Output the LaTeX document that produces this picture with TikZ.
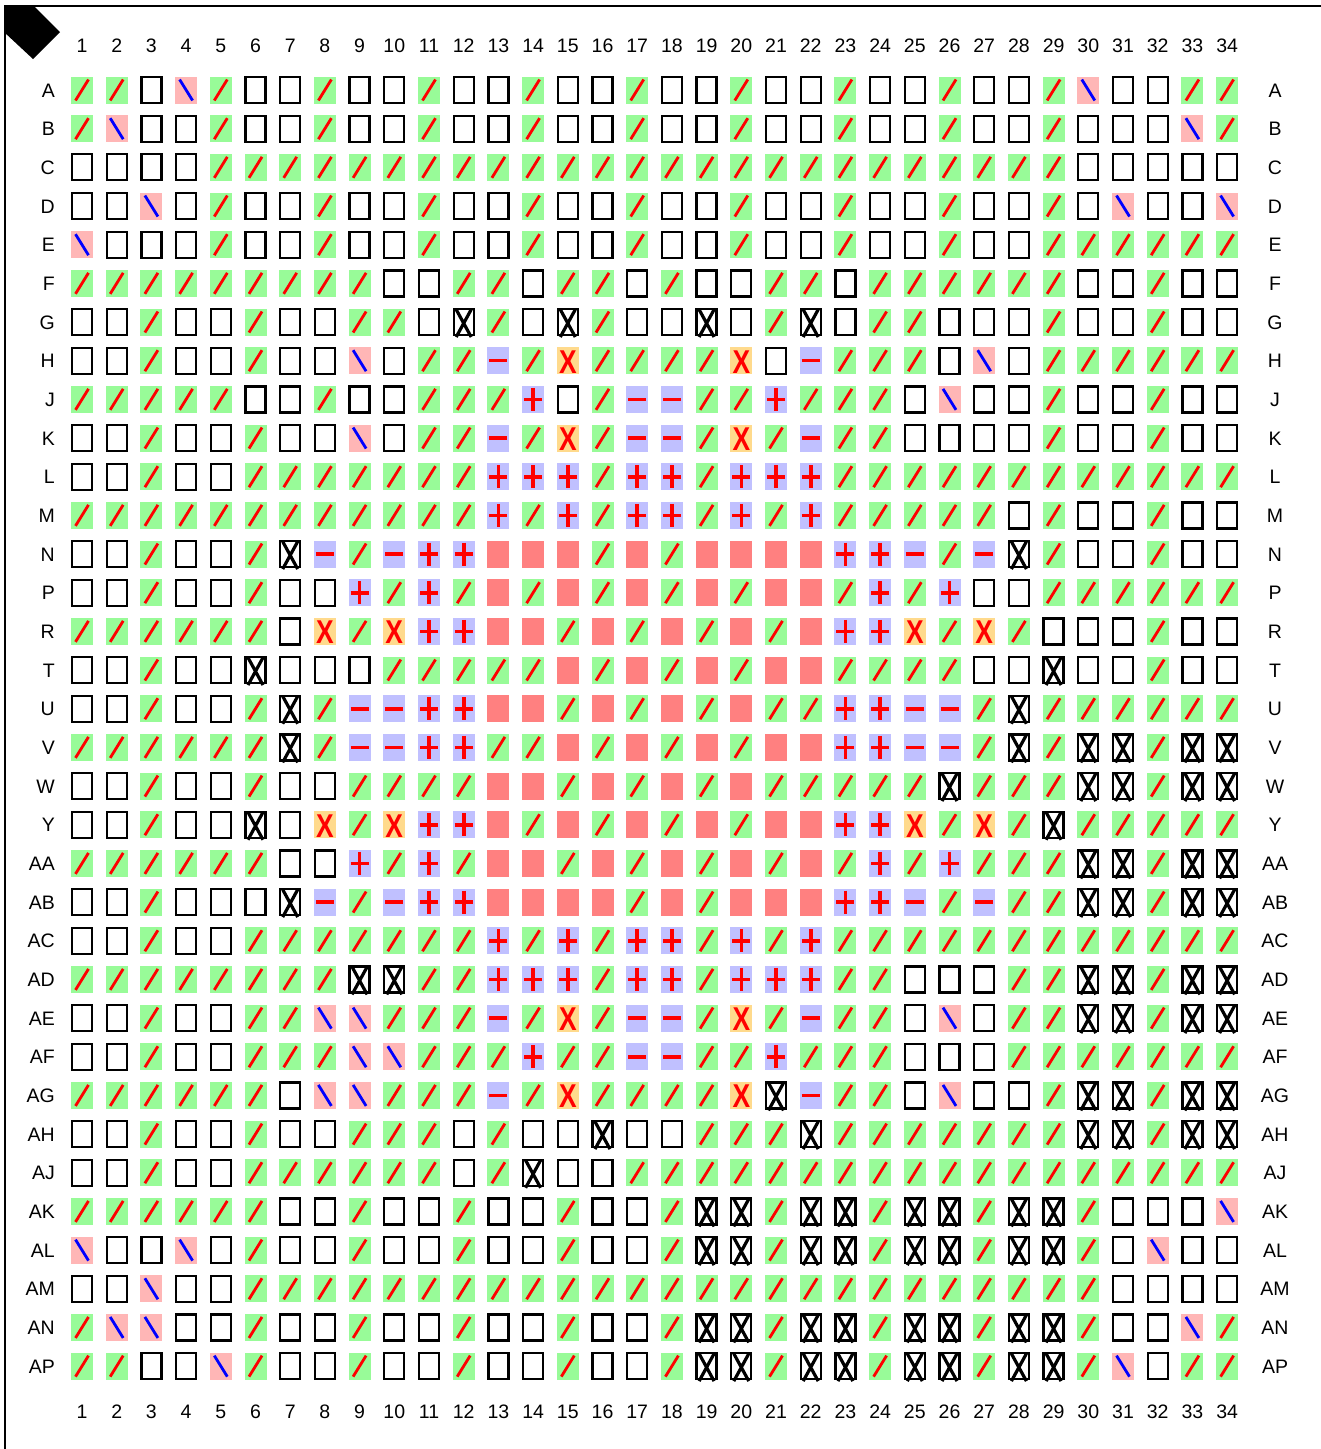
\documentclass[tikz,border=0pt]{standalone}
\usepackage{fontspec}
\setmainfont{Liberation Sans}
\usepackage{graphicx}
\definecolor{cgreen}{RGB}{152,251,152}
\definecolor{cpink}{RGB}{255,182,182}
\definecolor{clav}{RGB}{192,192,255}
\definecolor{csalmon}{RGB}{255,128,128}
\definecolor{corange}{RGB}{255,218,140}
\definecolor{cred}{RGB}{255,0,0}
\definecolor{cblue}{RGB}{0,0,255}
\newcommand\dcg{\fill[cgreen] (-11,-13.5) rectangle (11,13.5); \draw[cred,line width=2.8pt] (-6.5,10.5) -- (6.5,-10.5);}
\newcommand\dcp{\fill[cpink] (-11,-13.5) rectangle (11,13.5); \draw[cblue,line width=2.8pt] (-6.5,-10.5) -- (6.5,10.5);}
\newcommand\dce{\draw[line width=2.3pt] (-10,-13) rectangle (10,13);}
\newcommand\dcx{\draw[line width=2.3pt] (-10,-13) rectangle (10,13); \draw[line width=3.2pt] (-7.5,-12.5) -- (7.5,15) (7.5,-12.5) -- (-7.5,15);}
\newcommand\dcm{\fill[clav] (-11,-13.5) rectangle (11,13.5); \draw[cred,line width=3.6pt] (-9,0) -- (9,0);}
\newcommand\dca{\dcm \draw[cred,line width=3.6pt] (0,-11.5) -- (0,11.5);}
\newcommand\dco{\fill[corange] (-11,-13.5) rectangle (11,13.5); \node[inner sep=0pt,text=cred,font=\fontsize{33}{33}\selectfont\bfseries] (ox\currow-\j) at (0,1) {\scalebox{0.8}[1]{X}};}
\newcommand\dcr{\fill[csalmon] (-11,-13.5) rectangle (11,13.5);}
\newcommand\gridrow[3]{%
  \def\currow{#1}%
  \foreach \c [count=\j] in {#3} {%
    \begin{scope}[shift={({82+(\j-1)*34.7},{90+(#1-1)*38.67})}]
      \csname dc\c\endcsname
    \end{scope}
  }%
  \node[lab,anchor=base east] (L#2) at (55,{97+(#1-1)*38.67}) {#2};
  \node[lab,anchor=base] (R#2) at (1275,{97+(#1-1)*38.67}) {#2};
}
\tikzset{lab/.style={inner sep=0pt,font=\fontsize{19.5}{19.5}\selectfont}}
\begin{document}
\begin{tikzpicture}[x=1pt,y=-1pt]
\useasboundingbox (0,0) rectangle (1321,1449);
\fill[white] (0,0) rectangle (1321,1449);
\draw[line width=2pt] (5,1449) -- (5,6) -- (1321,6);
\fill[black] (4,5) -- (33,5) -- (60,32) -- (33,59) -- (4,32) -- cycle;
\foreach \j in {1,...,34} {
  \node[lab,anchor=base] (T\j) at ({82+(\j-1)*34.7},52) {\j};
  \node[lab,anchor=base] (B\j) at ({82+(\j-1)*34.7},1418) {\j};
}
\gridrow{1}{A}{g,g,e,p,g,e,e,g,e,e,g,e,e,g,e,e,g,e,e,g,e,e,g,e,e,g,e,e,g,p,e,e,g,g}
\gridrow{2}{B}{g,p,e,e,g,e,e,g,e,e,g,e,e,g,e,e,g,e,e,g,e,e,g,e,e,g,e,e,g,e,e,e,p,g}
\gridrow{3}{C}{e,e,e,e,g,g,g,g,g,g,g,g,g,g,g,g,g,g,g,g,g,g,g,g,g,g,g,g,g,e,e,e,e,e}
\gridrow{4}{D}{e,e,p,e,g,e,e,g,e,e,g,e,e,g,e,e,g,e,e,g,e,e,g,e,e,g,e,e,g,e,p,e,e,p}
\gridrow{5}{E}{p,e,e,e,g,e,e,g,e,e,g,e,e,g,e,e,g,e,e,g,e,e,g,e,e,g,e,e,g,g,g,g,g,g}
\gridrow{6}{F}{g,g,g,g,g,g,g,g,g,e,e,g,g,e,g,g,e,g,e,e,g,g,e,g,g,g,g,g,g,e,e,g,e,e}
\gridrow{7}{G}{e,e,g,e,e,g,e,e,g,g,e,x,g,e,x,g,e,e,x,e,g,x,e,g,g,e,e,e,g,e,e,g,e,e}
\gridrow{8}{H}{e,e,g,e,e,g,e,e,p,e,g,g,m,g,o,g,g,g,g,o,e,m,g,g,g,e,p,e,g,g,g,g,g,g}
\gridrow{9}{J}{g,g,g,g,g,e,e,g,e,e,g,g,g,a,e,g,m,m,g,g,a,g,g,g,e,p,e,e,g,e,e,g,e,e}
\gridrow{10}{K}{e,e,g,e,e,g,e,e,p,e,g,g,m,g,o,g,m,m,g,o,g,m,g,g,e,e,e,e,g,e,e,g,e,e}
\gridrow{11}{L}{e,e,g,e,e,g,g,g,g,g,g,g,a,a,a,g,a,a,g,a,a,a,g,g,g,g,g,g,g,g,g,g,g,g}
\gridrow{12}{M}{g,g,g,g,g,g,g,g,g,g,g,g,a,g,a,g,a,a,g,a,g,a,g,g,g,g,g,e,g,e,e,g,e,e}
\gridrow{13}{N}{e,e,g,e,e,g,x,m,g,m,a,a,r,r,r,g,r,g,r,r,r,r,a,a,m,g,m,x,g,e,e,g,e,e}
\gridrow{14}{P}{e,e,g,e,e,g,e,e,a,g,a,g,r,g,r,g,r,g,r,g,r,r,g,a,g,a,e,e,g,g,g,g,g,g}
\gridrow{15}{R}{g,g,g,g,g,g,e,o,g,o,a,a,r,r,g,r,g,r,g,r,g,r,a,a,o,g,o,g,e,e,e,g,e,e}
\gridrow{16}{T}{e,e,g,e,e,x,e,e,e,g,g,g,g,g,r,g,r,g,r,g,r,r,g,g,g,g,e,e,x,e,e,g,e,e}
\gridrow{17}{U}{e,e,g,e,e,g,x,g,m,m,a,a,r,r,g,r,g,r,g,r,g,g,a,a,m,m,g,x,g,g,g,g,g,g}
\gridrow{18}{V}{g,g,g,g,g,g,x,g,m,m,a,a,g,g,r,g,r,g,r,g,r,r,a,a,m,m,g,x,g,x,x,g,x,x}
\gridrow{19}{W}{e,e,g,e,e,g,e,e,g,g,g,g,r,r,g,r,g,r,g,r,g,g,g,g,g,x,g,g,g,x,x,g,x,x}
\gridrow{20}{Y}{e,e,g,e,e,x,e,o,g,o,a,a,r,g,r,g,r,g,r,g,r,r,a,a,o,g,o,g,x,g,g,g,g,g}
\gridrow{21}{AA}{g,g,g,g,g,g,e,e,a,g,a,g,r,r,g,r,g,r,g,r,g,r,g,a,g,a,g,g,g,x,x,g,x,x}
\gridrow{22}{AB}{e,e,g,e,e,e,x,m,g,m,a,a,r,r,r,r,g,r,g,r,r,r,a,a,m,g,m,g,g,x,x,g,x,x}
\gridrow{23}{AC}{e,e,g,e,e,g,g,g,g,g,g,g,a,g,a,g,a,a,g,a,g,a,g,g,g,g,g,g,g,g,g,g,g,g}
\gridrow{24}{AD}{g,g,g,g,g,g,g,g,x,x,g,g,a,a,a,g,a,a,g,a,a,a,g,g,e,e,e,g,g,x,x,g,x,x}
\gridrow{25}{AE}{e,e,g,e,e,g,g,p,p,g,g,g,m,g,o,g,m,m,g,o,g,m,g,g,e,p,e,g,g,x,x,g,x,x}
\gridrow{26}{AF}{e,e,g,e,e,g,g,g,p,p,g,g,g,a,g,g,m,m,g,g,a,g,g,g,e,e,e,g,g,g,g,g,g,g}
\gridrow{27}{AG}{g,g,g,g,g,g,e,p,p,g,g,g,m,g,o,g,g,g,g,o,x,m,g,g,e,p,e,e,g,x,x,g,x,x}
\gridrow{28}{AH}{e,e,g,e,e,g,e,e,g,g,g,e,g,e,e,x,e,e,g,g,g,x,g,g,g,g,g,g,g,x,x,g,x,x}
\gridrow{29}{AJ}{e,e,g,e,e,g,g,g,g,g,g,e,g,x,e,e,g,g,g,g,g,g,g,g,g,g,g,g,g,g,g,g,g,g}
\gridrow{30}{AK}{g,g,g,g,g,g,e,e,g,e,e,g,e,e,g,e,e,g,x,x,g,x,x,g,x,x,g,x,x,g,e,e,e,p}
\gridrow{31}{AL}{p,e,e,p,e,g,e,e,g,e,e,g,e,e,g,e,e,g,x,x,g,x,x,g,x,x,g,x,x,g,e,p,e,e}
\gridrow{32}{AM}{e,e,p,e,e,g,g,g,g,g,g,g,g,g,g,g,g,g,g,g,g,g,g,g,g,g,g,g,g,g,e,e,e,e}
\gridrow{33}{AN}{g,p,p,e,e,g,e,e,g,e,e,g,e,e,g,e,e,g,x,x,g,x,x,g,x,x,g,x,x,g,e,e,p,g}
\gridrow{34}{AP}{g,g,e,e,p,g,e,e,g,e,e,g,e,e,g,e,e,g,x,x,g,x,x,g,x,x,g,x,x,g,p,e,g,g}
\end{tikzpicture}
\end{document}
